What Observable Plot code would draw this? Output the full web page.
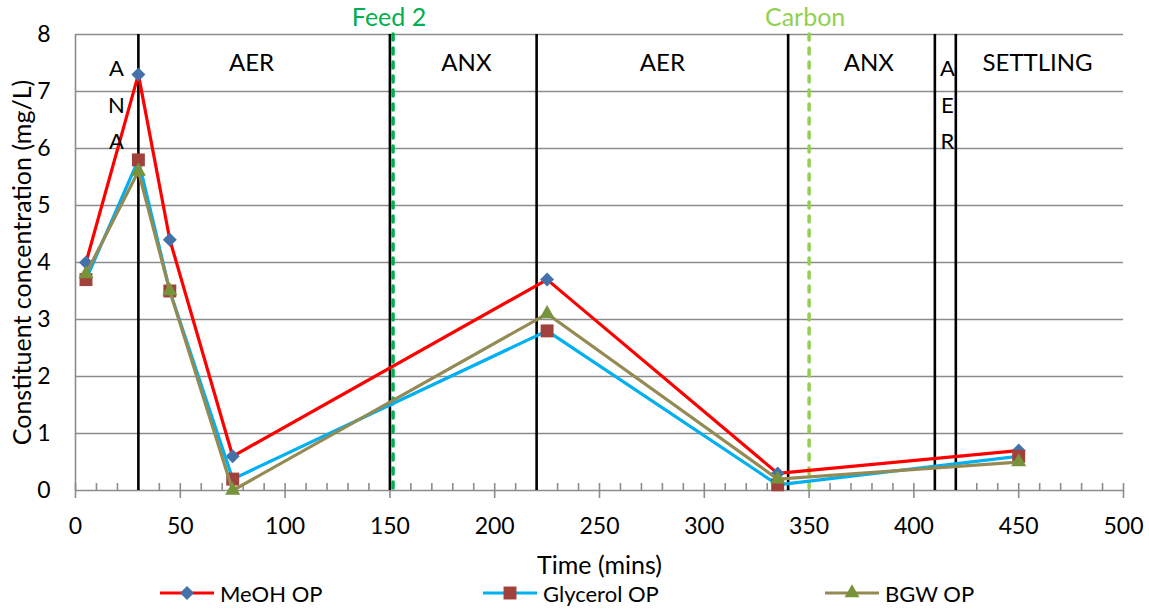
<!DOCTYPE html>
<html><head><meta charset="utf-8">
<script src="https://cdn.jsdelivr.net/npm/d3@7"></script>
<script src="https://cdn.jsdelivr.net/npm/@observablehq/plot@0.6"></script>
<style>
body{margin:0;background:#fff;font-family:Lato,sans-serif;}
#wrap{position:relative;width:1149px;height:609px;overflow:hidden;}
.leg{position:absolute;top:578px;height:30px;display:flex;align-items:center;font-size:22px;color:#000;white-space:nowrap;}
.leg svg{margin-right:6px;}
</style></head><body><div id="wrap"></div>
<script>
// ---- data ----
const times = [5, 30, 45, 75, 225, 335, 450];
const meoh = [4.0, 7.3, 4.4, 0.6, 3.7, 0.3, 0.7];
const glycerol = [3.7, 5.8, 3.5, 0.2, 2.8, 0.1, 0.6];
const bgw = [3.8, 5.6, 3.5, 0.0, 3.1, 0.2, 0.5];
const seriesNames = ["MeOH OP", "Glycerol OP", "BGW OP"];
const seriesValues = [meoh, glycerol, bgw];
const phaseBoundaries = [30, 150, 220, 340, 410, 420];
const phaseLabels = ["A\nN\nA", "AER", "ANX", "AER", "ANX", "A\nE\nR", "SETTLING"];
const phaseLabelTimes = [19.5, 84, 186.5, 280, 378.5, 416, 459];
const eventNames = ["Feed 2", "Carbon"];
const eventTimes = [151.5, 350];
const xTicks = d3.range(0, 501, 50);
const xMinorTicks = d3.range(0, 501, 10);
const yTicks = d3.range(0, 9, 1);

// ---- styles ----
const lineColors = ["#FF0000", "#00B0F0", "#948A54"];
const markerColors = ["#4472A8", "#A0413C", "#77933C"];
const markerSymbols = ["diamond2", "square", "triangle"];
const markerR = [6.3, 7.3, 5.6];
const d3Symbols = [d3.symbolDiamond2, d3.symbolSquare, d3.symbolTriangle];
const eventColors = ["#00B050", "#92D050"];

const rows = seriesNames.map((name, i) => times.map((t, j) => ({series: name, time: t, value: seriesValues[i][j]})));
const phases = phaseLabels.map((label, i) => ({label, time: phaseLabelTimes[i], stacked: label.includes("\n")}));
const events = eventNames.map((name, i) => ({name, time: eventTimes[i], color: eventColors[i]}));

const seriesMarks = rows.flatMap((data, i) => [
  Plot.line(data, {x: "time", y: "value", stroke: lineColors[i], strokeWidth: 3.2}),
  Plot.dot(data, {x: "time", y: "value", symbol: markerSymbols[i], r: markerR[i], fill: markerColors[i], stroke: "none"})
]);

const chart = Plot.plot({
  width: 1149,
  height: 586,
  marginTop: 34,
  marginBottom: 96,
  marginLeft: 75,
  marginRight: 26,
  style: {fontFamily: "Lato, sans-serif", fontSize: "23px", color: "#000", background: "#fff"},
  x: {domain: [0, 500]},
  y: {domain: [0, 8]},
  marks: [
    Plot.ruleY(yTicks, {stroke: "#8c8c8c", strokeWidth: 1.6}),
    Plot.ruleX([0], {stroke: "#8c8c8c", strokeWidth: 1.6}),
    Plot.axisY({ticks: yTicks, tickSize: 0, tickPadding: 25, label: null, fontSize: 23}),
    Plot.axisX({ticks: xTicks, tickSize: 8, tickPadding: 19, label: null, fontSize: 23, stroke: "#8c8c8c", strokeWidth: 1.6}),
    Plot.axisX({ticks: xMinorTicks, tickSize: -7, tickFormat: () => "", label: null, stroke: "#8c8c8c", strokeWidth: 1.6}),
    Plot.ruleX(phaseBoundaries, {stroke: "#000", strokeWidth: 2.6}),
    Plot.ruleX(events, {x: "time", stroke: "color", strokeWidth: 3.5, strokeDasharray: "6,8", strokeLinecap: "round"}),
    ...seriesMarks,
    Plot.text(phases.filter(d => !d.stacked), {x: "time", text: "label", frameAnchor: "top", lineAnchor: "top", dy: 19, fontSize: 24, fill: "#000"}),
    Plot.text(phases.filter(d => d.stacked), {x: "time", text: "label", frameAnchor: "top", lineAnchor: "top", dy: 16, fontSize: 22, lineHeight: 1.65, fill: "#000"}),
    Plot.text(events, {x: "time", text: "name", fill: "color", frameAnchor: "top", lineAnchor: "middle", dy: -17, dx: -4, fontSize: 25}),
    Plot.text(["Time (mins)"], {text: d => d, frameAnchor: "bottom", textAnchor: "middle", lineAnchor: "middle", dy: 75, fontSize: 25, fill: "#000"}),
    Plot.text(["Constituent concentration (mg/L)"], {text: d => d, frameAnchor: "left", textAnchor: "middle", rotate: -90, lineAnchor: "middle", dx: -53, fontSize: 25, fill: "#000"})
  ]
});

const wrap = document.getElementById("wrap");
wrap.appendChild(chart);

// ---- legend ----
const legendLeft = [160, 483, 825];
seriesNames.forEach((name, i) => {
  const item = document.createElement("div");
  item.className = "leg";
  item.style.left = legendLeft[i] + "px";
  const area = Math.PI * markerR[i] * markerR[i];
  const path = d3.symbol(d3Symbols[i], area)();
  item.innerHTML = `<svg width="54" height="24" viewBox="0 0 54 24"><line x1="0" y1="12" x2="54" y2="12" stroke="${lineColors[i]}" stroke-width="3.2"/><path transform="translate(27,12)" d="${path}" fill="${markerColors[i]}"/></svg><span>${name}</span>`;
  wrap.appendChild(item);
});
</script>
</body></html>
